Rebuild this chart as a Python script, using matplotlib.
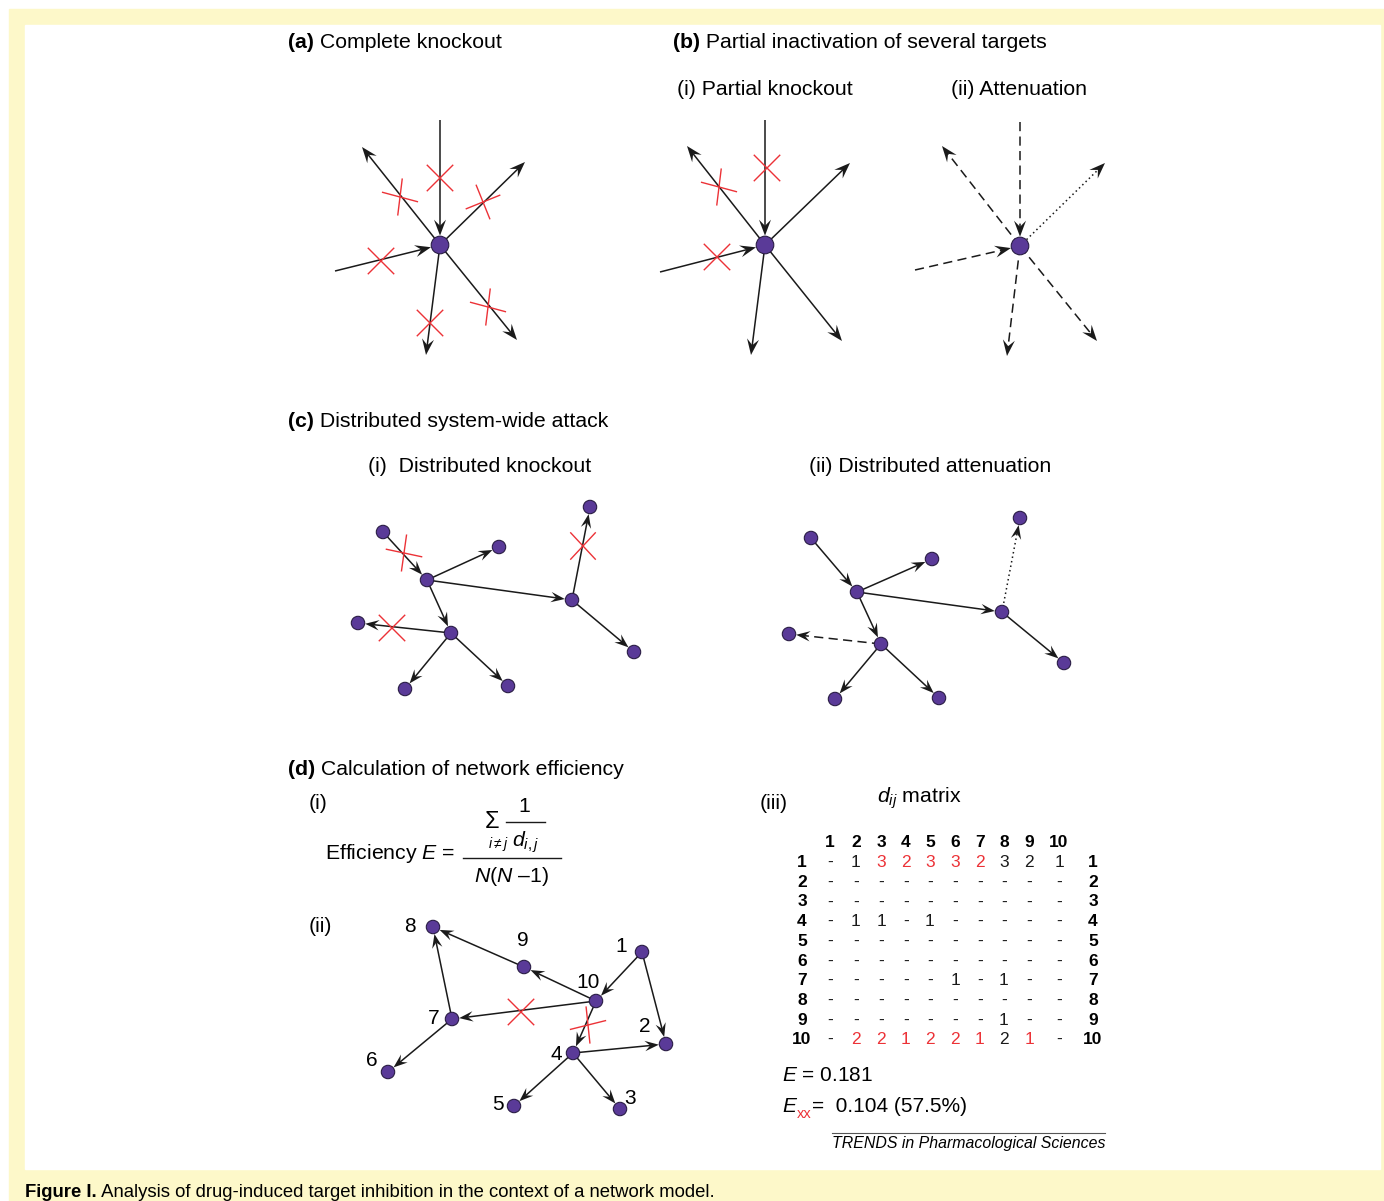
import numpy as np
import matplotlib
matplotlib.use("Agg")
import matplotlib.pyplot as plt
from matplotlib.patches import Rectangle, Circle, Polygon

plt.rcParams['font.family'] = ['Liberation Sans', 'DejaVu Sans']
plt.rcParams['mathtext.fontset'] = 'custom'
plt.rcParams['mathtext.rm'] = 'Liberation Sans'
plt.rcParams['mathtext.it'] = 'Liberation Sans:italic'
plt.rcParams['mathtext.bf'] = 'Liberation Sans:bold'

W, H = 1384, 1201
YELLOW = '#fdf8c9'
RED = '#ec3237'
NODE = '#5a3a98'
INK = '#1a1a1a'
FS = 15.3

# ---- panel data (pixel positions, y down) ----
# (a) complete knockout: hub + spoke ends, direction, line style
hub_a = (440, 245)
spokes_a = [((440, 120), 'in', '-'), ((362, 147), 'out', '-'), ((525, 162), 'out', '-'),
            ((335, 271), 'in', '-'), ((426, 355), 'out', '-'), ((517, 340), 'out', '-')]
cross_a = [(440, 178, 45, -45), (400, 197, 15, 97), (483, 202, -22, 68),
           (381, 261, 45, -45), (430, 323, 45, -45), (488, 307, 15, 97)]

# (b)(i) partial knockout
hub_b1 = (765, 245)
spokes_b1 = [((765, 120), 'in', '-'), ((687, 146), 'out', '-'), ((850, 163), 'out', '-'),
             ((660, 272), 'in', '-'), ((751, 355), 'out', '-'), ((842, 341), 'out', '-')]
cross_b1 = [(767, 168, 45, -45), (719, 187, 15, 97), (717, 257, 45, -45)]

# (b)(ii) attenuation
hub_b2 = (1020, 246)
spokes_b2 = [((1020, 122), 'in', '--'), ((942, 146), 'out', '--'), ((1105, 163), 'out', ':'),
             ((915, 270), 'in', '--'), ((1007, 356), 'out', '--'), ((1097, 341), 'out', '--')]

# (c) distributed networks: node names and edges
c_edges = [('A', 'C'), ('C', 'B'), ('C', 'E'), ('C', 'G'), ('E', 'D'),
           ('E', 'J'), ('G', 'F'), ('G', 'H'), ('G', 'I')]
c1_nodes = {'A': (383, 532), 'B': (499, 547), 'C': (427, 580), 'D': (590, 507),
            'E': (572, 600), 'F': (358, 623), 'G': (451, 633), 'H': (405, 689),
            'I': (508, 686), 'J': (634, 652)}
c1_styles = {}
cross_c1 = [(404, 553, 12, 98), (583, 546, 47, -47), (392, 628, 45, -45)]

c2_nodes = {'A': (811, 538), 'B': (932, 559), 'C': (857, 592), 'D': (1020, 518),
            'E': (1002, 612), 'F': (789, 634), 'G': (881, 644), 'H': (835, 699),
            'I': (939, 698), 'J': (1064, 663)}
c2_styles = {('E', 'D'): ':', ('G', 'F'): '--'}

# (d)(ii) numbered network
d_nodes = {8: (433, 927), 9: (524, 967), 1: (642, 952), 10: (596, 1001), 7: (452, 1019),
           2: (666, 1044), 4: (573, 1053), 6: (388, 1072), 5: (514, 1106), 3: (620, 1109)}
d_label_pos = {8: (410, 927), 9: (523, 941), 1: (621, 947), 10: (588, 983), 7: (434, 1018),
               2: (645, 1027), 4: (556, 1054), 6: (372, 1061), 5: (498, 1105), 3: (630, 1099)}
d_edges = [(10, 9), (9, 8), (7, 8), (10, 7), (7, 6), (1, 10), (1, 2), (10, 4), (4, 2), (4, 5), (4, 3)]
cross_d = [(521, 1012, 45, -45), (588, 1025, -14, 84)]

# (d)(iii) d_ij matrix, '-' = no path, red = changed after knockout
mat_rows = [
    ['-', '1', '3', '2', '3', '3', '2', '3', '2', '1'],
    ['-'] * 10,
    ['-'] * 10,
    ['-', '1', '1', '-', '1', '-', '-', '-', '-', '-'],
    ['-'] * 10,
    ['-'] * 10,
    ['-', '-', '-', '-', '-', '1', '-', '1', '-', '-'],
    ['-'] * 10,
    ['-', '-', '-', '-', '-', '-', '-', '1', '-', '-'],
    ['-', '2', '2', '1', '2', '2', '1', '2', '1', '-'],
]
mat_red = {(0, 2), (0, 3), (0, 4), (0, 5), (0, 6),
           (9, 1), (9, 2), (9, 3), (9, 4), (9, 5), (9, 6), (9, 8)}
mat_labels = [str(i) for i in range(1, 11)]
mat_cols_x = [830, 856, 881, 906, 930, 955, 980, 1004, 1029, 1059]
mat_rows_y = [862 + 19.7 * i for i in range(10)]

fig = plt.figure(figsize=(W / 100, H / 100), dpi=100)
ax = fig.add_axes([0, 0, 1, 1])
ax.set_xlim(0, W)
ax.set_ylim(H, 0)
ax.axis('off')
renderer = fig.canvas.get_renderer()

ax.add_patch(Rectangle((9, 9), W - 9, H - 9, color=YELLOW, zorder=0))
ax.add_patch(Rectangle((25, 25), 1380 - 25, 1169 - 25, color='white', zorder=0))


def arrow(p0, p1, ls='-', s0=0.0, s1=0.0, L=16, hw=6.0, lw=1.1):
    p0 = np.array(p0, float)
    p1 = np.array(p1, float)
    u = (p1 - p0) / np.hypot(*(p1 - p0))
    n = np.array([-u[1], u[0]])
    a = p0 + u * s0
    tip = p1 - u * s1
    back = tip - u * L * 0.6
    dashes = {'-': '-', '--': (0, (6, 3.5)), ':': (0, (1, 2))}[ls]
    ax.plot([a[0], back[0]], [a[1], back[1]], color=INK, lw=lw, ls=dashes, zorder=2,
            solid_capstyle='butt', dash_capstyle='butt')
    head = [tip, tip - u * L + n * hw, tip - u * L * 0.62, tip - u * L - n * hw]
    ax.add_patch(Polygon(head, closed=True, color=INK, lw=0, zorder=3))


def cross(x, y, a1, a2, h=18):
    for a in (a1, a2):
        r = np.radians(a)
        d = np.array([np.cos(r), np.sin(r)]) * h
        ax.plot([x - d[0], x + d[0]], [y - d[1], y + d[1]], color=RED, lw=1.0, zorder=4)


def node(p, r):
    ax.add_patch(Circle(p, r, facecolor=NODE, edgecolor='#2a1d45', lw=0.8, zorder=5))


def star(hub, spokes, crosses=()):
    r = 8.8
    for end, d, ls in spokes:
        if d == 'in':
            arrow(end, hub, ls, s1=r + 0.5)
        else:
            arrow(hub, end, ls)
    node(hub, r)
    for c in crosses:
        cross(*c)


def network(nodes, edges, styles=None, crosses=(), r=6.7, L=14):
    styles = styles or {}
    for u, v in edges:
        arrow(nodes[u], nodes[v], styles.get((u, v), '-'), s0=0, s1=r + 0.5, L=L, hw=5.2)
    for p in nodes.values():
        node(p, r)
    for c in crosses:
        cross(*c)


def two_part(x, y, first, second, size=FS, w1='bold', w2='normal', fam=None):
    kw = {'family': fam} if fam else {}
    t = ax.text(x, y, first, fontsize=size, fontweight=w1, ha='left', va='baseline', **kw)
    bb = t.get_window_extent(renderer)
    ax.text(bb.x1, y, second, fontsize=size, fontweight=w2, ha='left', va='baseline', **kw)


def label(x, y, s, size=FS, **kw):
    ax.text(x, y, s, fontsize=size, ha='left', va='baseline', **kw)


# ---- headings ----
two_part(288, 48, '(a)', ' Complete knockout')
two_part(673, 48, '(b)', ' Partial inactivation of several targets')
label(677, 95, '(i) Partial knockout')
label(951, 95, '(ii) Attenuation')
two_part(288, 427, '(c)', ' Distributed system-wide attack')
label(368, 472, '(i)  Distributed knockout')
label(809, 472, '(ii) Distributed attenuation')
two_part(288, 775, '(d)', ' Calculation of network efficiency')
label(309, 809, '(i)')
label(309, 932, '(ii)')

# ---- diagrams ----
star(hub_a, spokes_a, cross_a)
star(hub_b1, spokes_b1, cross_b1)
star(hub_b2, spokes_b2)
network(c1_nodes, c_edges, c1_styles, cross_c1)
network(c2_nodes, c_edges, c2_styles)
network(d_nodes, d_edges, None, cross_d)
for k, (x, y) in d_label_pos.items():
    ax.text(x, y, str(k), fontsize=15, ha='center', va='center')

# ---- formula ----
ax.text(325, 859, r'Efficiency $E$ =', fontsize=FS, ha='left', va='baseline')
ax.plot([463, 561], [858, 858], color=INK, lw=1.0)
ax.plot([506, 545], [822, 822], color=INK, lw=1.0)
ax.text(492, 828, 'Σ', fontsize=17, ha='center', va='baseline')
ax.text(524, 812, '1', fontsize=FS, ha='center', va='baseline')
ax.text(498, 848, r'$i{\neq}j$', fontsize=10, ha='center', va='baseline')
ax.text(526, 847, r'$d_{i,j}$', fontsize=FS, ha='center', va='baseline')
ax.text(512, 882, r'$N$($N$ –1)', fontsize=FS, ha='center', va='baseline')

# ---- matrix ----
label(760, 809, '(iii)')
ax.text(877, 803, r'$d_{ij}$ matrix', fontsize=FS, ha='left', va='baseline')
for j, lab in enumerate(mat_labels):
    ax.text(mat_cols_x[j], 847, lab, fontsize=12.5, fontweight='bold', ha='center', va='baseline')
for i, row in enumerate(mat_rows):
    y = mat_rows_y[i] + 5
    ax.text(802, y, mat_labels[i], fontsize=12.5, fontweight='bold', ha='center', va='baseline')
    ax.text(1093, y, mat_labels[i], fontsize=12.5, fontweight='bold', ha='center', va='baseline')
    for j, v in enumerate(row):
        col = RED if (i, j) in mat_red else INK
        ax.text(mat_cols_x[j], y, v, fontsize=12.5, color=col, ha='center', va='baseline')

ax.text(782, 1081, r'$E$ = 0.181', fontsize=15, ha='left', va='baseline')
t_e = ax.text(782, 1112, r'$E$', fontsize=15, ha='left', va='baseline')
x_sub = t_e.get_window_extent(renderer).x1 - 1
t_xx = ax.text(x_sub, 1118, 'xx', fontsize=10.5, color=RED, ha='left', va='baseline')
x_eq = t_xx.get_window_extent(renderer).x1
ax.text(x_eq, 1112, '=  0.104 (57.5%)', fontsize=15, ha='left', va='baseline')
ax.plot([832, 1105], [1133, 1133], color='#555555', lw=0.8)
ax.text(832, 1148, 'TRENDS in Pharmacological Sciences', fontsize=11.4, style='italic',
        ha='left', va='baseline')

# ---- caption ----
two_part(25, 1197, 'Figure I.', ' Analysis of drug-induced target inhibition in the context of a network model.',
         size=13.3, fam=['Liberation Sans Narrow', 'Liberation Sans'])

fig.savefig('out.png', dpi=100)
